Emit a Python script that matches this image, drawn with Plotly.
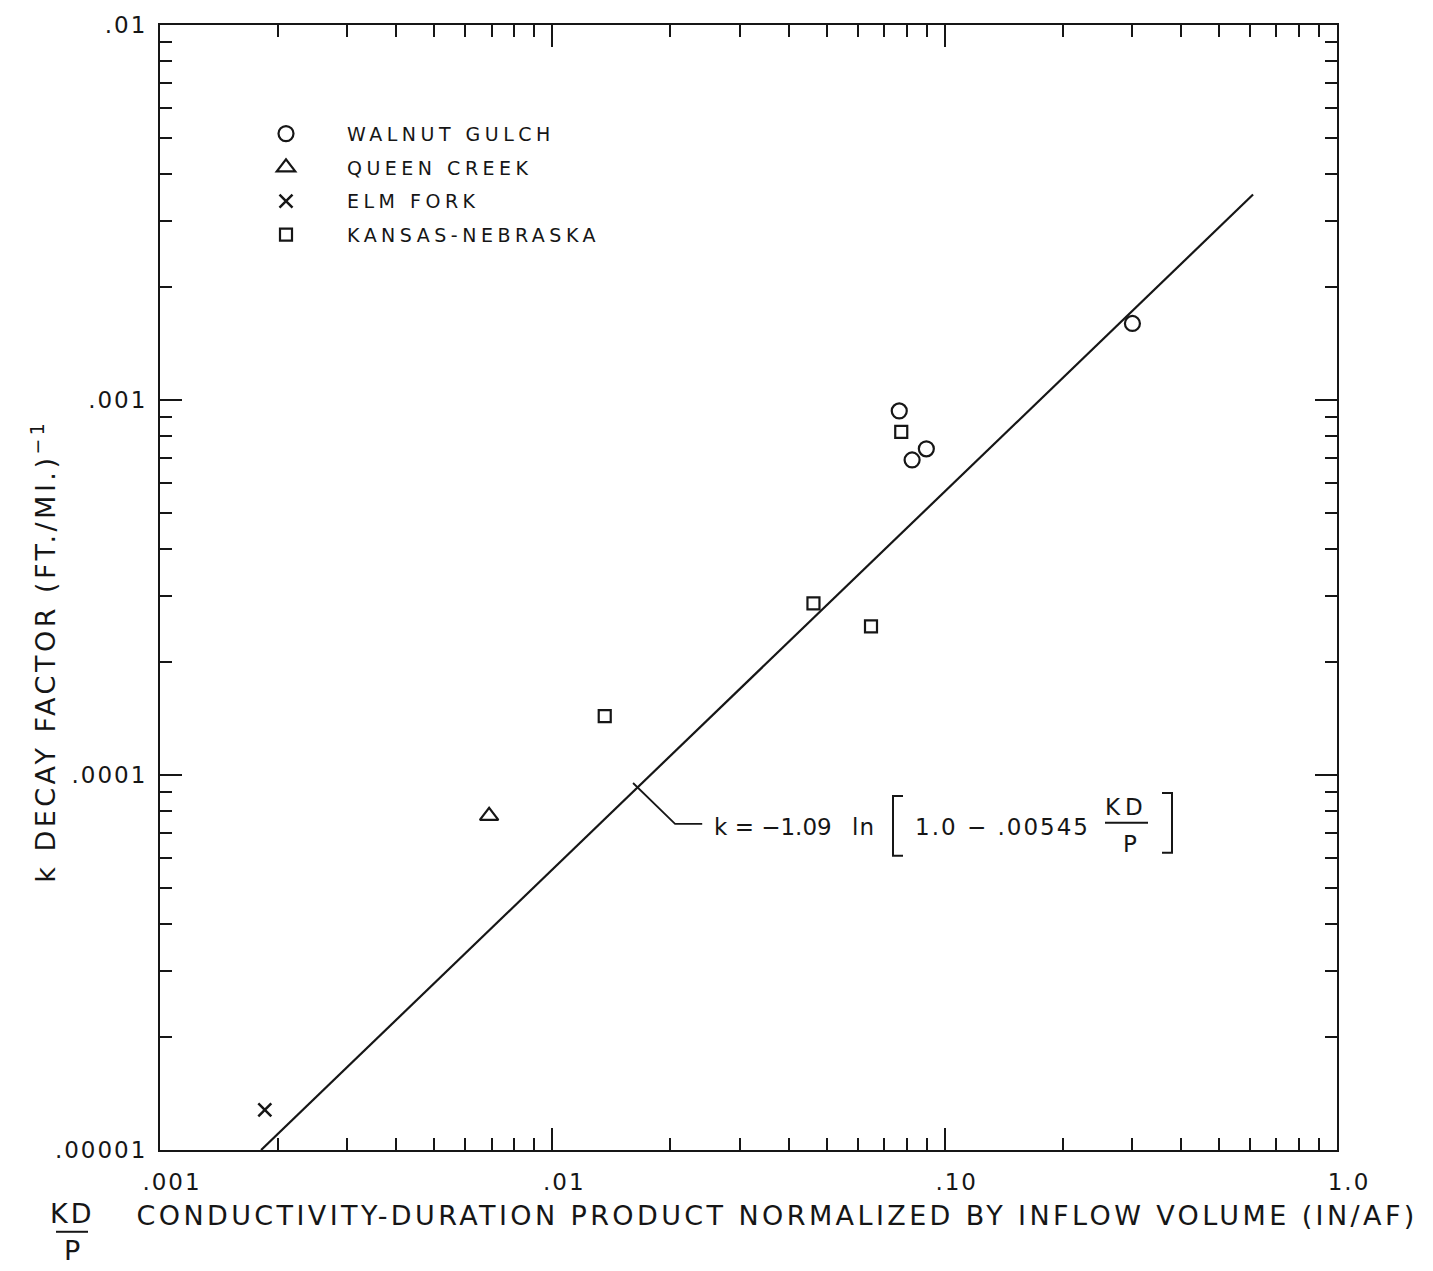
import plotly.graph_objects as go

# ---------------- data ----------------
series_names = ["WALNUT GULCH", "QUEEN CREEK", "ELM FORK", "KANSAS-NEBRASKA"]
walnut_x = [0.301, 0.0766, 0.0826, 0.0898]
walnut_y = [0.00160, 0.000935, 0.000692, 0.000741]
queen_x = [0.0069]
queen_y = [0.0000778]
elm_x = [0.00185]
elm_y = [0.0000128]
kansas_x = [0.0775, 0.0463, 0.0649, 0.0136]
kansas_y = [0.000822, 0.000287, 0.000249, 0.0001436]
fit_x = [0.00181, 0.611]
fit_y = [0.00001, 0.00353]
leader_x = [0.01606, 0.02055, 0.0241]
leader_y = [0.0000952, 0.0000741, 0.0000741]

x_tickvals = [0.001, 0.01, 0.1, 1.0]
x_ticktext = [".001", ".01", ".10", "1.0"]
y_tickvals = [0.00001, 0.0001, 0.001, 0.01]
y_ticktext = [".00001", ".0001", ".001", ".01"]
x_minor = [m * 10.0 ** e for e in (-3, -2, -1) for m in range(2, 10)]
y_minor = [m * 10.0 ** e for e in (-5, -4, -3) for m in range(2, 10)]

# ---------------- layout geometry ----------------
W, H = 1433, 1271
ML, MR, MT, MB = 160, 96, 22, 121
PW, PH = W - ML - MR, H - MT - MB
INK = "#161616"
FONT = "DejaVu Sans"


def px(xp):
    return (xp - ML) / PW


def py(yp):
    return (H - MB - yp) / PH


def pt(xp, yp):
    return f"{px(xp):.5f},{py(yp):.5f}"


fig = go.Figure()

marker_specs = [
    (walnut_x, walnut_y, dict(symbol="circle-open", size=15, line=dict(width=2.2, color=INK), color=INK)),
    (queen_x, queen_y, dict(symbol="triangle-up-open", size=16, line=dict(width=2.2, color=INK), color=INK)),
    (elm_x, elm_y, dict(symbol="x-thin-open", size=13, line=dict(width=2.5, color=INK), color=INK)),
    (kansas_x, kansas_y, dict(symbol="square-open", size=12, line=dict(width=2.2, color=INK), color=INK)),
]

fig.add_trace(go.Scatter(x=fit_x, y=fit_y, mode="lines", line=dict(color=INK, width=2.2),
                         showlegend=False, hoverinfo="skip"))
fig.add_trace(go.Scatter(x=leader_x, y=leader_y, mode="lines", line=dict(color=INK, width=1.8),
                         showlegend=False, hoverinfo="skip"))
for name, (xs, ys, mk) in zip(series_names, marker_specs):
    fig.add_trace(go.Scatter(x=xs, y=ys, mode="markers", name=name, marker=mk,
                             legendgroup=name))

axis_common = dict(
    type="log", showgrid=False, zeroline=False, showline=True, linewidth=2, linecolor=INK,
    mirror="ticks", ticks="inside", ticklen=22, tickwidth=2, tickcolor=INK,
    tickfont=dict(family=FONT, size=23, color=INK),
)

fig.update_xaxes(
    **axis_common, range=[-3, 0], tickmode="array", tickvals=x_tickvals, ticktext=x_ticktext,
    ticklabelstandoff=10, ticklabelshift=12,
    minor=dict(ticks="inside", ticklen=12, tickwidth=1.6, tickcolor=INK,
               tickmode="array", tickvals=x_minor),
)
fig.update_yaxes(
    **axis_common, range=[-5, -2], tickmode="array", tickvals=y_tickvals, ticktext=y_ticktext,
    ticklabelstandoff=6,
    minor=dict(ticks="inside", ticklen=12, tickwidth=1.6, tickcolor=INK,
               tickmode="array", tickvals=y_minor),
)

# ---------------- text annotations ----------------
ann = []
spacing = []


def add_text(text, xp, yp, size, ls, angle=0):
    ann.append(dict(text=text, x=px(xp), y=py(yp), xref="paper", yref="paper",
                    xanchor="center", yanchor="middle", showarrow=False, textangle=angle,
                    font=dict(family=FONT, size=size, color=INK)))
    spacing.append(ls)


add_text("CONDUCTIVITY-DURATION PRODUCT NORMALIZED BY INFLOW VOLUME (IN/AF)", 777, 1216, 27, 3.4)
add_text("KD", 72, 1214, 27, 3)
add_text("P", 72, 1251, 27, 0)
add_text("k DECAY FACTOR (FT./MI.)<sup>−1</sup>", 43, 650, 27, 3.5, angle=-90)
add_text("k = −1.09", 773, 826, 23, 0)
add_text("ln", 863, 826, 23, 1)
add_text("1.0 − .00545", 1002, 826, 23, 2)
add_text("KD", 1126, 806, 23, 5)
add_text("P", 1130, 843, 23, 0)

shapes = [
    dict(type="path", xref="paper", yref="paper", line=dict(color=INK, width=2),
         path=f"M {pt(903, 795)} L {pt(893, 795)} L {pt(893, 855)} L {pt(903, 855)}"),
    dict(type="path", xref="paper", yref="paper", line=dict(color=INK, width=2),
         path=f"M {pt(1162, 792)} L {pt(1172, 792)} L {pt(1172, 852)} L {pt(1162, 852)}"),
    dict(type="line", xref="paper", yref="paper", line=dict(color=INK, width=2),
         x0=px(1105), x1=px(1148), y0=py(822), y1=py(822)),
    dict(type="line", xref="paper", yref="paper", line=dict(color=INK, width=2),
         x0=px(56), x1=px(88), y0=py(1232), y1=py(1232)),
]

fig.update_layout(
    width=W, height=H, autosize=False,
    margin=dict(l=ML, r=MR, t=MT, b=MB, pad=0),
    paper_bgcolor="white", plot_bgcolor="white",
    font=dict(family=FONT, color=INK),
    annotations=ann, shapes=shapes,
    showlegend=True,
    legend=dict(x=px(225), y=py(112), xanchor="left", yanchor="top",
                bgcolor="rgba(0,0,0,0)", borderwidth=0, itemwidth=112,
                tracegroupgap=6, font=dict(family=FONT, size=19, color=INK),
                itemclick=False, itemdoubleclick=False),
)

sp_js = "[" + ",".join(str(s) for s in spacing) + "]"
post = (
    "document.body.style.margin='0';"
    "var sp=" + sp_js + ";"
    "document.querySelectorAll('g.annotation').forEach(function(g){"
    "var i=parseInt(g.getAttribute('data-index'));var t=g.querySelector('text');"
    "if(t&&sp[i]){t.setAttribute('letter-spacing',sp[i]+'px');}});"
    "document.querySelectorAll('g.legend [clip-path]').forEach(function(e){e.removeAttribute('clip-path');});"
    "document.querySelectorAll('g.legend text.legendtext').forEach(function(t){t.setAttribute('letter-spacing','4.5px');});"
    "document.querySelectorAll('g.xtick text, g.ytick text').forEach(function(t){t.setAttribute('letter-spacing','2px');});"
    "document.querySelectorAll('svg text').forEach(function(t){if(!t.textContent.trim()){t.remove();}});"
)

fig.write_html("out.html", post_script=post, config={"displayModeBar": False})
